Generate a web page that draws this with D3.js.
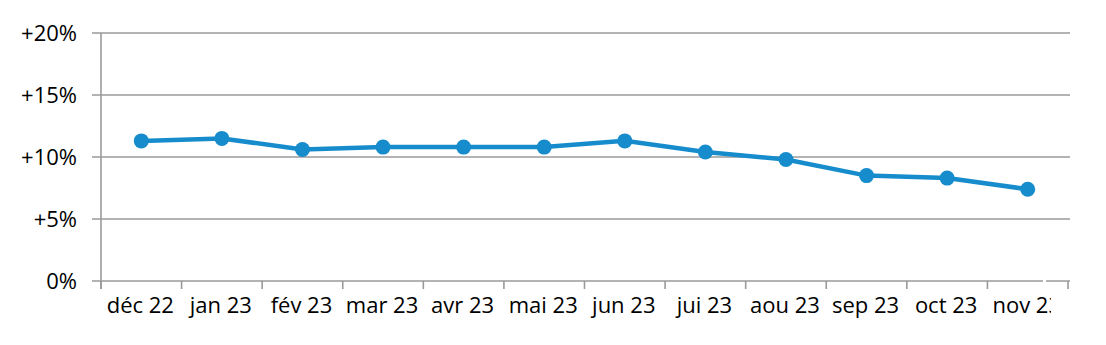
<!DOCTYPE html>
<html>
<head>
<meta charset="utf-8">
<script src="https://cdn.jsdelivr.net/npm/d3@7"></script>
<style>
body { margin: 0; background: #fff; }
text { font-family: "Open Sans", sans-serif; fill: #000; }
</style>
</head>
<body>
<svg id="chart"></svg>
<script>
// Data
var months = ["déc 22", "jan 23", "fév 23", "mar 23", "avr 23", "mai 23",
              "jun 23", "jui 23", "aou 23", "sep 23", "oct 23", "nov 23"];
var values = [11.3, 11.5, 10.6, 10.8, 10.8, 10.8, 11.3, 10.4, 9.8, 8.5, 8.3, 7.4];
var yTicks = [0, 5, 10, 15, 20];

var width = 1106, height = 345;
var plotLeft = 101, plotRight = 1068, plotTop = 33, plotBottom = 281;

var svg = d3.select("#chart").attr("width", width).attr("height", height);

var x = d3.scaleBand().domain(months).range([plotLeft, plotRight]);
var y = d3.scaleLinear().domain([0, 20]).range([plotBottom, plotTop]);

// gridlines + y tick marks
svg.selectAll(".grid").data(yTicks).enter().append("line")
    .attr("x1", plotLeft - 9).attr("x2", plotRight + 2)
    .attr("y1", function (d) { return y(d); })
    .attr("y2", function (d) { return y(d); })
    .style("stroke", "#9a9a9a").style("stroke-width", 1.6);

svg.selectAll(".ylab").data(yTicks).enter().append("text")
    .attr("x", 77).attr("y", function (d) { return y(d); })
    .attr("dy", "0.36em").attr("text-anchor", "end")
    .style("font-size", "22px")
    .text(function (d) { return d === 0 ? "0%" : "+" + d + "%"; });

// y axis line
svg.append("line").attr("x1", plotLeft).attr("x2", plotLeft)
    .attr("y1", plotTop).attr("y2", plotBottom + 8)
    .style("stroke", "#9a9a9a").style("stroke-width", 1.6);

// x tick marks between categories
var bounds = months.map(function (m) { return x(m); }).concat([plotRight]);
svg.selectAll(".xtick").data(bounds).enter().append("line")
    .attr("x1", function (d) { return d; }).attr("x2", function (d) { return d; })
    .attr("y1", plotBottom).attr("y2", plotBottom + 8)
    .style("stroke", "#9a9a9a").style("stroke-width", 1.6);

// clip for the cut-off last label
svg.append("clipPath").attr("id", "cut").append("rect")
    .attr("x", 0).attr("y", 0).attr("width", 1051).attr("height", height);

svg.selectAll(".xlab").data(months).enter().append("text")
    .attr("x", function (d) { return x(d) + x.bandwidth() / 2 - 1; })
    .attr("y", 313)
    .attr("text-anchor", "middle")
    .attr("clip-path", "url(#cut)")
    .style("font-size", "22px")
    .text(function (d) { return d; });

// gap in axis line at the right
svg.append("rect").attr("x", 1043).attr("y", 278).attr("width", 3).attr("height", 6)
    .style("fill", "#fff");

// line + markers
var line = d3.line()
    .x(function (d, i) { return x(months[i]) + x.bandwidth() / 2; })
    .y(function (d) { return y(d); });

svg.append("path").datum(values)
    .attr("d", line)
    .style("fill", "none").style("stroke", "#168ccc").style("stroke-width", 4.5);

svg.selectAll(".pt").data(values).enter().append("circle")
    .attr("cx", function (d, i) { return x(months[i]) + x.bandwidth() / 2; })
    .attr("cy", function (d) { return y(d); })
    .attr("r", 7.5)
    .style("fill", "#168ccc");
</script>
</body>
</html>
